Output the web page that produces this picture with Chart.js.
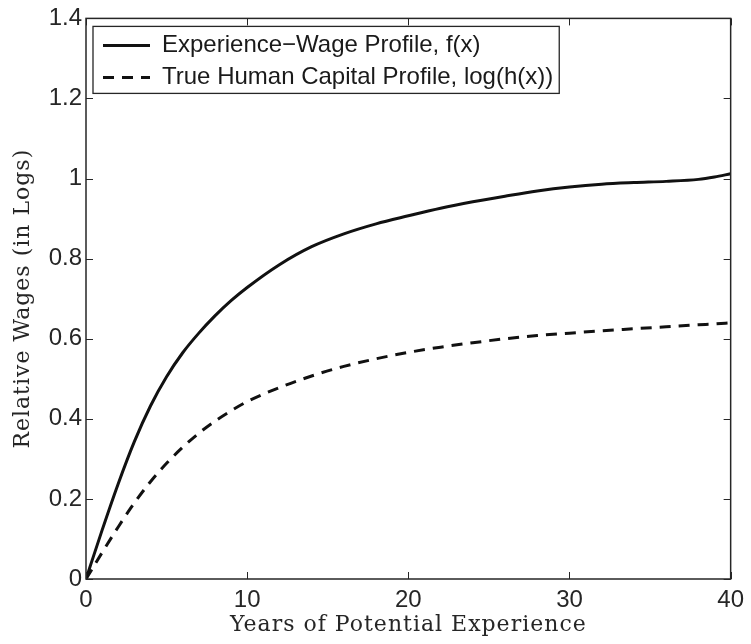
<!DOCTYPE html>
<html>
<head>
<meta charset="utf-8">
<script src="https://cdn.jsdelivr.net/npm/chart.js@4"></script>
<style>
  html, body { margin: 0; padding: 0; background: #fff; }
</style>
</head>
<body>
<canvas id="ProfileChart" width="751" height="644"></canvas>
<script>
const years = [0, 1, 2, 3, 4, 5, 6, 7, 8, 9, 10, 12, 14, 16, 18, 20, 22, 24, 26, 28, 30, 32, 34, 36, 38, 39, 40];
const wageProfile = [0, 0.122, 0.238, 0.343, 0.432, 0.505, 0.565, 0.614, 0.657, 0.695, 0.728, 0.785, 0.83, 0.862, 0.887, 0.907, 0.926, 0.942, 0.956, 0.969, 0.979, 0.986, 0.99, 0.993, 0.998, 1.004, 1.012];
const humanCapital = [0, 0.066, 0.13, 0.19, 0.243, 0.289, 0.329, 0.364, 0.394, 0.42, 0.443, 0.478, 0.507, 0.531, 0.55, 0.566, 0.579, 0.59, 0.6, 0.608, 0.614, 0.62, 0.625, 0.63, 0.635, 0.637, 0.64];
const xTicks = [0, 10, 20, 30, 40];
const yTicks = [0, 0.2, 0.4, 0.6, 0.8, 1, 1.2, 1.4];

const ink = '#262626';
const sans = 'Liberation Sans, Arial, sans-serif';
const serif = 'DejaVu Serif, serif';

const ctx = document.getElementById('ProfileChart').getContext('2d');

// titles in the original are LaTeX-set and a bit spaced out
const spacedTitles = {
  id: 'spacedTitles',
  afterLayout(chart) {
    Object.values(chart.scales).forEach(s => {
      if (s._spaced) return;
      const draw = s.drawTitle.bind(s);
      s.drawTitle = () => {
        const c = s.ctx;
        c.save();
        c.letterSpacing = '1px';
        draw();
        c.restore();
      };
      s._spaced = true;
    });
    // legend sits inside the axes, a little in from the corner
    chart.legend.left = chart.chartArea.left + 9;
    chart.legend.top = chart.chartArea.top + 7;
  }
};

// box round the axes, ticks pointing inwards, border round the legend
const matlabFrame = {
  id: 'matlabFrame',
  afterDraw(chart) {
    const {ctx, chartArea: a, scales} = chart;
    const len = 7;
    ctx.save();
    ctx.strokeStyle = ink;
    ctx.lineWidth = 1;
    scales.x.ticks.forEach(t => {
      const px = Math.round(scales.x.getPixelForValue(t.value)) + 0.5;
      ctx.beginPath();
      ctx.moveTo(px, a.bottom); ctx.lineTo(px, a.bottom - len);
      ctx.moveTo(px, a.top); ctx.lineTo(px, a.top + len);
      ctx.stroke();
    });
    scales.y.ticks.forEach(t => {
      const py = Math.round(scales.y.getPixelForValue(t.value)) + 0.5;
      ctx.beginPath();
      ctx.moveTo(a.left, py); ctx.lineTo(a.left + len, py);
      ctx.moveTo(a.right, py); ctx.lineTo(a.right - len, py);
      ctx.stroke();
    });
    ctx.lineWidth = 1.5;
    ctx.strokeRect(a.left, a.top, a.right - a.left, a.bottom - a.top);

    // legend box
    const lg = chart.legend;
    const lo = lg.options.labels;
    ctx.font = '24px ' + sans;
    const maxW = Math.max(...lg.legendItems.map(i => ctx.measureText(i.text).width));
    const textX = lg.left + lo.padding + lo.pointStyleWidth + 12;
    const bx = a.left + 7, by = a.top + 8;
    ctx.lineWidth = 1.3;
    ctx.strokeRect(bx, by, textX + maxW + 6 - bx, 67);
    ctx.restore();
  }
};

const data = {
  labels: years,
  datasets: [
    {
      label: 'Experience\u2212Wage Profile, f(x)',
      data: years.map((x, i) => ({x: x, y: wageProfile[i]})),
      borderColor: '#111',
      backgroundColor: '#111',
      borderWidth: 3,
      pointRadius: 0,
      cubicInterpolationMode: 'monotone'
    },
    {
      label: 'True Human Capital Profile, log(h(x))',
      data: years.map((x, i) => ({x: x, y: humanCapital[i]})),
      borderColor: '#111',
      backgroundColor: '#111',
      borderWidth: 3,
      borderDash: [11, 8],
      pointRadius: 0,
      cubicInterpolationMode: 'monotone'
    }
  ]
};

const config = {
  type: 'line',
  data: data,
  options: {
    responsive: false,
    animation: false,
    layout: { padding: { left: 0, top: 15, right: 18, bottom: 0 } },
    scales: {
      x: {
        type: 'linear',
        min: 0,
        max: 40,
        afterBuildTicks: s => { s.ticks = xTicks.map(v => ({value: v})); },
        afterFit: s => { s.height = 65; },
        grid: { display: false, drawTicks: false },
        border: { display: false },
        ticks: { color: ink, font: { family: sans, size: 24 }, padding: 7, maxRotation: 0 },
        title: {
          display: true,
          text: 'Years of Potential Experience',
          color: ink,
          font: { family: serif, size: 22 },
          padding: { top: 0, bottom: 6 }
        }
      },
      y: {
        min: 0,
        max: 1.4,
        afterBuildTicks: s => { s.ticks = yTicks.map(v => ({value: v})); },
        afterFit: s => { s.width = 86; },
        grid: { display: false, drawTicks: false },
        border: { display: false },
        ticks: { color: ink, font: { family: sans, size: 24 }, padding: 4, callback: v => String(v) },
        title: {
          display: true,
          text: 'Relative Wages (in Logs)',
          color: ink,
          font: { family: serif, size: 22 },
          padding: { top: 10, bottom: 0 }
        }
      }
    },
    plugins: {
      legend: {
        position: 'chartArea',
        align: 'start',
        labels: {
          usePointStyle: true,
          pointStyle: 'line',
          pointStyleWidth: 47,
          padding: 8,
          color: '#1a1a1a',
          font: { family: sans, size: 24 },
          generateLabels: chart => {
            const items = Chart.defaults.plugins.legend.labels.generateLabels(chart);
            items.forEach(it => {
              const ds = chart.data.datasets[it.datasetIndex];
              it.lineDash = ds.borderDash || [];
              it.lineWidth = ds.borderWidth;
              it.strokeStyle = ds.borderColor;
            });
            return items;
          }
        }
      },
      tooltip: { enabled: false }
    }
  },
  plugins: [spacedTitles, matlabFrame]
};

const profile = new Chart(ctx, config);
</script>
</body>
</html>
